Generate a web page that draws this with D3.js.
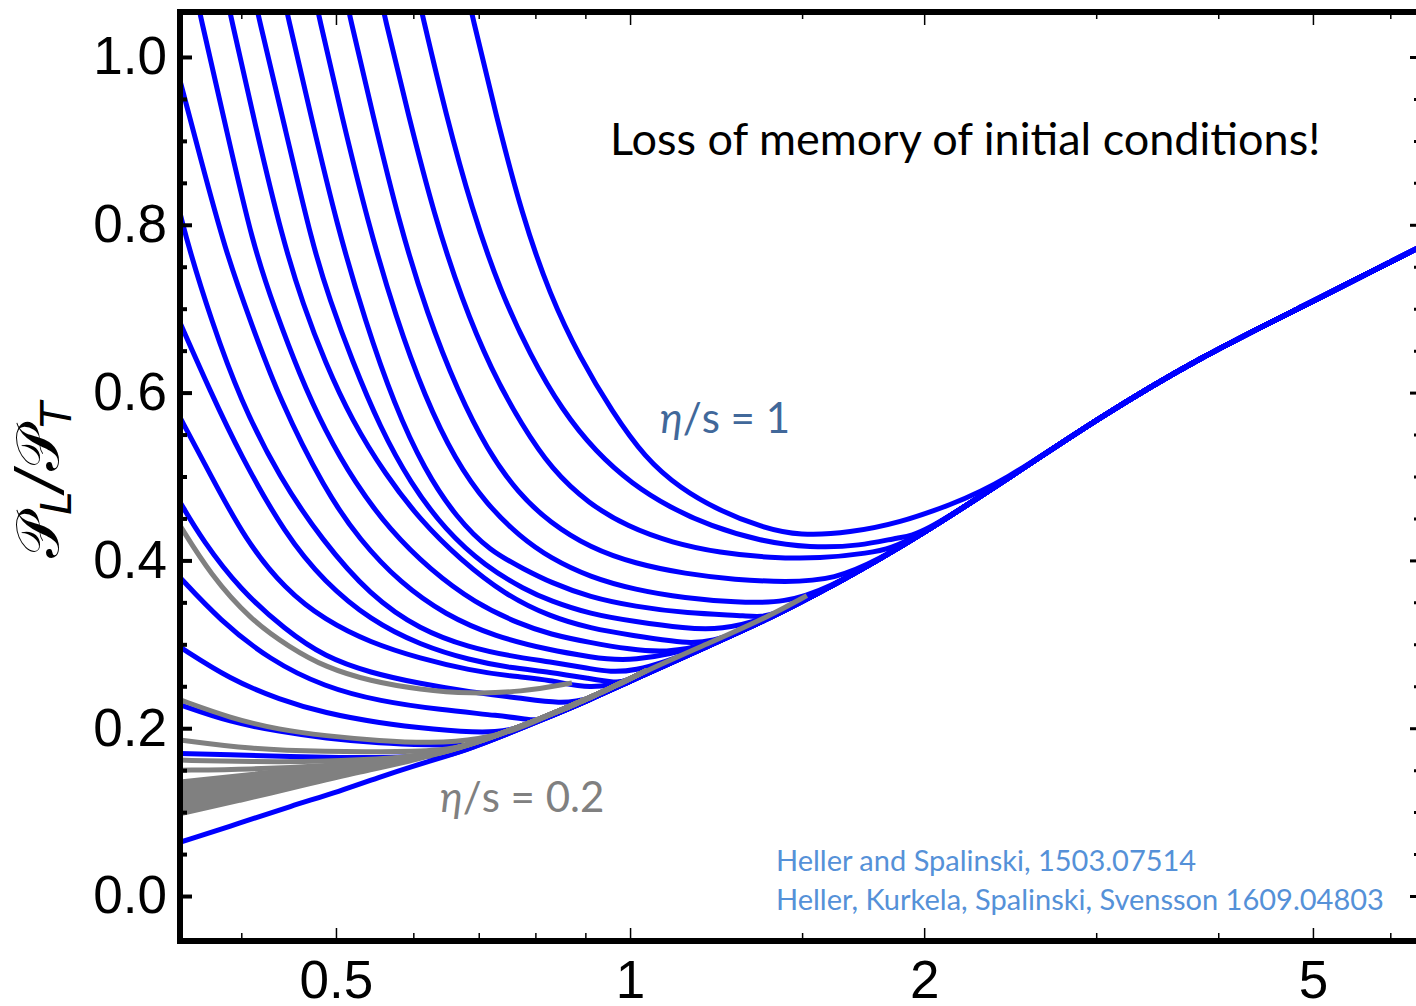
<!DOCTYPE html>
<html>
<head>
<meta charset="utf-8">
<script src="https://cdnjs.cloudflare.com/ajax/libs/d3/7.8.5/d3.min.js"></script>
<style>
  body { margin: 0; background: #fff; }
  svg { display: block; }
</style>
</head>
<body>
<script>
(function() {

    // ---- data: [w = tau*T, P_L/P_T] ----

    // blue (eta/s = 1) attractor, lowest blue line
    var attractor = [[0.346,0.064],[0.399,0.087],[0.449,0.107],[0.505,0.125],[0.555,0.142],[0.596,0.154],
        [0.655,0.168],[0.702,0.180],[0.809,0.209],[0.910,0.234],[1.0,0.256],[1.208,0.299],[1.391,0.331],
        [1.602,0.368],[1.803,0.402],[1.981,0.430],[2.391,0.491],[3.027,0.571],[3.832,0.642],[4.851,0.701],[6.42,0.773]];

    // blue curves entering through the top edge (left to right)
    var blueT1 = [[0.355,1.104],[0.363,1.050],[0.386,0.915],[0.411,0.776],[0.433,0.699],[0.459,0.621],[0.487,0.555],[0.523,0.492],[0.568,0.436],[0.624,0.389],[0.694,0.349],[0.772,0.324],[0.828,0.312],[0.910,0.302],[1.0,0.294],[1.086,0.290]];
    var blueT2 = [[0.381,1.104],[0.390,1.050],[0.414,0.915],[0.441,0.782],[0.463,0.704],[0.487,0.637],[0.519,0.567],[0.562,0.502],[0.610,0.448],[0.670,0.401],[0.745,0.359],[0.828,0.333],[0.910,0.319],[1.012,0.310],[1.099,0.304]];
    var blueT3 = [[0.407,1.104],[0.416,1.050],[0.444,0.913],[0.473,0.776],[0.493,0.710],[0.519,0.639],[0.555,0.558],[0.596,0.492],[0.647,0.436],[0.711,0.393],[0.781,0.365],[0.828,0.352],[0.910,0.336],[1.012,0.327],[1.139,0.319],[1.236,0.317]];
    var blueT4 = [[0.436,1.104],[0.446,1.050],[0.472,0.927],[0.501,0.800],[0.536,0.684],[0.574,0.585],[0.616,0.508],[0.664,0.451],[0.719,0.411],[0.781,0.389],[0.828,0.374],[0.910,0.356],[1.012,0.345],[1.139,0.337],[1.327,0.334]];
    var blueT5 = [[0.469,1.104],[0.480,1.050],[0.507,0.929],[0.539,0.803],[0.576,0.689],[0.617,0.594],[0.662,0.520],[0.714,0.466],[0.772,0.428],[0.828,0.403],[0.910,0.380],[1.012,0.365],[1.139,0.355],[1.281,0.350],[1.441,0.349]];
    var blueT6 = [[0.505,1.104],[0.516,1.050],[0.546,0.929],[0.580,0.803],[0.620,0.693],[0.667,0.600],[0.714,0.532],[0.768,0.480],[0.828,0.445],[0.910,0.415],[1.012,0.396],[1.139,0.384],[1.281,0.377],[1.441,0.374],[1.621,0.377]];
    var blueT7 = [[0.548,1.104],[0.560,1.050],[0.593,0.931],[0.630,0.812],[0.673,0.710],[0.721,0.627],[0.775,0.561],[0.832,0.508],[0.906,0.468],[0.995,0.440],[1.104,0.421],[1.236,0.409],[1.391,0.403],[1.565,0.402],[1.760,0.409],[1.846,0.414]];
    var blueT8 = [[0.598,1.104],[0.613,1.050],[0.648,0.931],[0.689,0.818],[0.736,0.722],[0.790,0.645],[0.852,0.579],[0.923,0.529],[1.005,0.491],[1.099,0.463],[1.208,0.441],[1.359,0.423],[1.528,0.415],[1.720,0.417],[1.890,0.428]];
    var blueT9 = [[0.673,1.104],[0.689,1.050],[0.729,0.931],[0.775,0.812],[0.828,0.716],[0.889,0.641],[0.959,0.577],[1.036,0.522],[1.125,0.486],[1.236,0.459],[1.359,0.440],[1.493,0.429],[1.680,0.433],[1.890,0.445],[2.126,0.466]];

    // blue curves entering through the left edge (top to bottom)
    var blueL1 = [[0.346,0.973],[0.363,0.881],[0.385,0.770],[0.409,0.684],[0.438,0.591],[0.487,0.484],[0.529,0.424],[0.582,0.373],[0.647,0.335],[0.728,0.309],[0.828,0.293],[0.910,0.285],[1.0,0.278]];
    var blueL2 = [[0.346,0.815],[0.354,0.770],[0.372,0.689],[0.399,0.591],[0.438,0.498],[0.484,0.424],[0.542,0.358],[0.610,0.317],[0.686,0.296],[0.754,0.286],[0.828,0.279],[0.910,0.271],[1.0,0.263]];
    var blueL3 = [[0.346,0.684],[0.372,0.601],[0.399,0.526],[0.444,0.430],[0.487,0.374],[0.542,0.329],[0.610,0.299],[0.686,0.281],[0.754,0.272],[0.828,0.267],[0.910,0.259],[0.965,0.254]];
    var blueL4 = [[0.346,0.571],[0.372,0.502],[0.404,0.424],[0.444,0.365],[0.487,0.329],[0.542,0.302],[0.610,0.283],[0.686,0.269],[0.754,0.262],[0.828,0.258],[0.910,0.246]];
    var blueL5 = [[0.346,0.470],[0.365,0.424],[0.399,0.365],[0.444,0.317],[0.487,0.285],[0.542,0.266],[0.610,0.253],[0.686,0.243],[0.772,0.236],[0.848,0.229]];
    var blueL6 = [[0.346,0.380],[0.380,0.329],[0.428,0.281],[0.487,0.249],[0.555,0.232],[0.639,0.222],[0.736,0.215],[0.790,0.210]];
    var blueL7 = [[0.346,0.297],[0.390,0.258],[0.438,0.234],[0.487,0.218],[0.555,0.206],[0.624,0.199],[0.736,0.192]];
    var blueL8 = [[0.346,0.228],[0.390,0.207],[0.438,0.196],[0.487,0.188],[0.555,0.182],[0.624,0.180],[0.686,0.179]];
    var blueL9 = [[0.346,0.170],[0.399,0.168],[0.449,0.166],[0.505,0.165],[0.568,0.165],[0.639,0.167]];

    // grey (eta/s = 0.2) curves
    var greyAttractor = [[0.346,0.098],[0.399,0.114],[0.459,0.131],[0.529,0.148],[0.610,0.163],[0.702,0.184],
        [0.809,0.211],[0.910,0.236],[1.041,0.269],[1.208,0.302],[1.391,0.334],[1.517,0.358]];
    var greyG1 = [[0.346,0.442],[0.372,0.383],[0.409,0.329],[0.449,0.296],[0.487,0.273],[0.542,0.256],[0.610,0.246],[0.686,0.241],[0.772,0.243],[0.872,0.254]];
    var greyG2 = [[0.346,0.234],[0.390,0.212],[0.438,0.198],[0.487,0.191],[0.555,0.185],[0.624,0.182],[0.702,0.186],[0.772,0.200]];
    var greyG3 = [[0.346,0.186],[0.409,0.175],[0.487,0.172],[0.582,0.172],[0.655,0.174]];
    var greyG4 = [[0.346,0.162],[0.409,0.160],[0.487,0.160],[0.582,0.165],[0.639,0.169]];
    var greyG5 = [[0.346,0.150],[0.409,0.151],[0.487,0.155],[0.582,0.163],[0.639,0.169]];
    // the dense grey fan at the bottom left, all meeting near w = 0.64
    var greyFanStart = [0.136, 0.131, 0.126, 0.122, 0.117, 0.112, 0.107, 0.103];
    var greyFanMid = [0.152, 0.150, 0.147, 0.145, 0.142, 0.140, 0.138, 0.135];
    var greyFanMeet = 0.170;
    var greyEnd = 1.041;   // where the short grey runs stop

    // axis ticks
    var xMajor = [0.5, 1, 2, 5];
    var xMinor = [0.4, 0.6, 0.7, 0.8, 0.9, 1.5, 3, 4, 6];
    var yMajor = [0, 0.2, 0.4, 0.6, 0.8, 1.0];
    var yMinor = [0.05, 0.1, 0.15, 0.25, 0.3, 0.35, 0.45, 0.5, 0.55, 0.65, 0.7, 0.75, 0.85, 0.9, 0.95];


    var width = 1416, height = 1006;
    var left = 180, right = 1419, top = 12, bottom = 941;

    var svg = d3.select("body")
        .append("svg")
        .attr("width", width)
        .attr("height", height);

    var x = d3.scaleLog()
        .domain([0.3462, 6.42])
        .range([left, right]);

    var y = d3.scaleLinear()
        .domain([-0.0536, 1.0536])
        .range([bottom, top]);

    svg.append("clipPath")
        .attr("id", "plotclip")
        .append("rect")
        .attr("x", left).attr("y", top)
        .attr("width", right - left).attr("height", bottom - top);

    var line = d3.line()
        .x(function(d){ return x(d[0]); })
        .y(function(d){ return y(d[1]); })
        .curve(d3.curveBasis);

    // a curve runs on its own points, then follows its attractor
    function joinBase(own, base, wEnd) {
        var last = own[own.length - 1][0];
        return own.concat(base.filter(function(p){
            return p[0] > last && p[0] <= wEnd;
        }));
    }

    var plot = svg.append("g").attr("clip-path", "url(#plotclip)");

    var blueCurves = [blueT1, blueT2, blueT3, blueT4, blueT5, blueT6, blueT7, blueT8, blueT9,
                      blueL1, blueL2, blueL3, blueL4, blueL5, blueL6, blueL7, blueL8, blueL9]
        .map(function(c){ return joinBase(c, attractor, Infinity); });
    blueCurves.unshift(attractor);

    plot.selectAll(".blue")
        .data(blueCurves)
        .enter()
        .append("path")
        .attr("class", "blue")
        .attr("d", line)
        .style("fill", "none")
        .style("stroke", "#0000ff")
        .style("stroke-width", 5);

    var greyFan = greyFanStart.map(function(v0, i){
        return [[0.346, v0], [0.4705, greyFanMid[i]], [0.639, greyFanMeet]];
    });

    var greyCurves = [greyG2, greyG3, greyG4, greyG5].concat(greyFan)
        .map(function(c){ return joinBase(c, greyAttractor, greyEnd); });
    greyCurves.push(greyAttractor);
    greyCurves.push(greyG1);

    plot.selectAll(".grey")
        .data(greyCurves)
        .enter()
        .append("path")
        .attr("class", "grey")
        .attr("d", line)
        .style("fill", "none")
        .style("stroke", "#808080")
        .style("stroke-width", 5);

    // ---- frame and ticks ----
    function tickAxis(axis, g, size, sw) {
        g.call(axis.tickSize(-size));
        g.select(".domain").remove();
        g.selectAll(".tick line").style("stroke", "#000").style("stroke-width", sw);
    }

    var noLabel = function(){ return ""; };

    var gb = svg.append("g").attr("transform", "translate(0," + bottom + ")");
    tickAxis(d3.axisBottom(x).tickValues(xMinor).tickFormat(noLabel), gb.append("g"), 8, 1.5);
    tickAxis(d3.axisBottom(x).tickValues(xMajor).tickPadding(19).tickFormat(function(d){ return String(d); }), gb.append("g"), 13, 1.5);

    var gt = svg.append("g").attr("transform", "translate(0," + top + ")");
    tickAxis(d3.axisTop(x).tickValues(xMinor).tickFormat(noLabel), gt.append("g"), 7, 1.5);
    tickAxis(d3.axisTop(x).tickValues(xMajor).tickFormat(noLabel), gt.append("g"), 13, 1.5);

    var gl = svg.append("g").attr("transform", "translate(" + left + ",0)");
    tickAxis(d3.axisLeft(y).tickValues(yMinor).tickFormat(noLabel), gl.append("g"), 7, 4);
    tickAxis(d3.axisLeft(y).tickValues(yMajor).tickPadding(13).tickFormat(d3.format(".1f")), gl.append("g"), 12, 4);

    var gr = svg.append("g").attr("transform", "translate(" + right + ",0)");
    tickAxis(d3.axisRight(y).tickValues(yMinor).tickFormat(noLabel), gr.append("g"), 5, 3);
    tickAxis(d3.axisRight(y).tickValues(yMajor).tickFormat(noLabel), gr.append("g"), 9, 3);

    svg.selectAll(".tick text")
        .style("font-family", "'Liberation Sans', Arial, sans-serif")
        .style("font-size", "53px")
        .style("fill", "#000");

    svg.append("rect")
        .attr("x", left).attr("y", top)
        .attr("width", right - left).attr("height", bottom - top)
        .style("fill", "none")
        .style("stroke", "#000")
        .style("stroke-width", 6);

    // ---- y axis title ----
    var ylab = svg.append("text")
        .attr("transform", "translate(58,480) rotate(-90)")
        .attr("text-anchor", "middle")
        .style("font-family", "'DejaVu Sans', 'Liberation Sans', sans-serif")
        .style("font-size", "60px")
        .style("fill", "#000");
    ylab.append("tspan").text("\uD835\uDCAB");
    ylab.append("tspan").attr("dy", 13).style("font-size", "42px").style("font-style", "italic").text("L");
    ylab.append("tspan").attr("dy", -13).style("font-style", "italic").text("/");
    ylab.append("tspan").text("\uD835\uDCAB");
    ylab.append("tspan").attr("dy", 13).style("font-size", "42px").style("font-style", "italic").text("T");

    // ---- annotations ----
    svg.append("text")
        .attr("x", 610).attr("y", 155)
        .style("font-family", "Lato, sans-serif")
        .style("font-size", "45px")
        .style("fill", "#000")
        .text("Loss of memory of initial conditions!");

    var lab1 = svg.append("text")
        .attr("x", 660).attr("y", 433)
        .style("font-family", "Lato, sans-serif")
        .style("font-size", "42px")
        .style("fill", "#41689a");
    lab1.append("tspan").style("font-style", "italic").text("\u03B7");
    lab1.append("tspan").text("/s = 1");

    var lab2 = svg.append("text")
        .attr("x", 440).attr("y", 812)
        .style("font-family", "Lato, sans-serif")
        .style("font-size", "42px")
        .style("fill", "#808080");
    lab2.append("tspan").style("font-style", "italic").text("\u03B7");
    lab2.append("tspan").text("/s = 0.2");

    svg.append("text")
        .attr("x", 776).attr("y", 871)
        .style("font-family", "Lato, sans-serif")
        .style("font-size", "29px")
        .style("fill", "#5591d8")
        .text("Heller and Spalinski, 1503.07514");

    svg.append("text")
        .attr("x", 776).attr("y", 910)
        .style("font-family", "Lato, sans-serif")
        .style("font-size", "29px")
        .style("fill", "#5591d8")
        .text("Heller, Kurkela, Spalinski, Svensson 1609.04803");

})();
</script>
</body>
</html>
